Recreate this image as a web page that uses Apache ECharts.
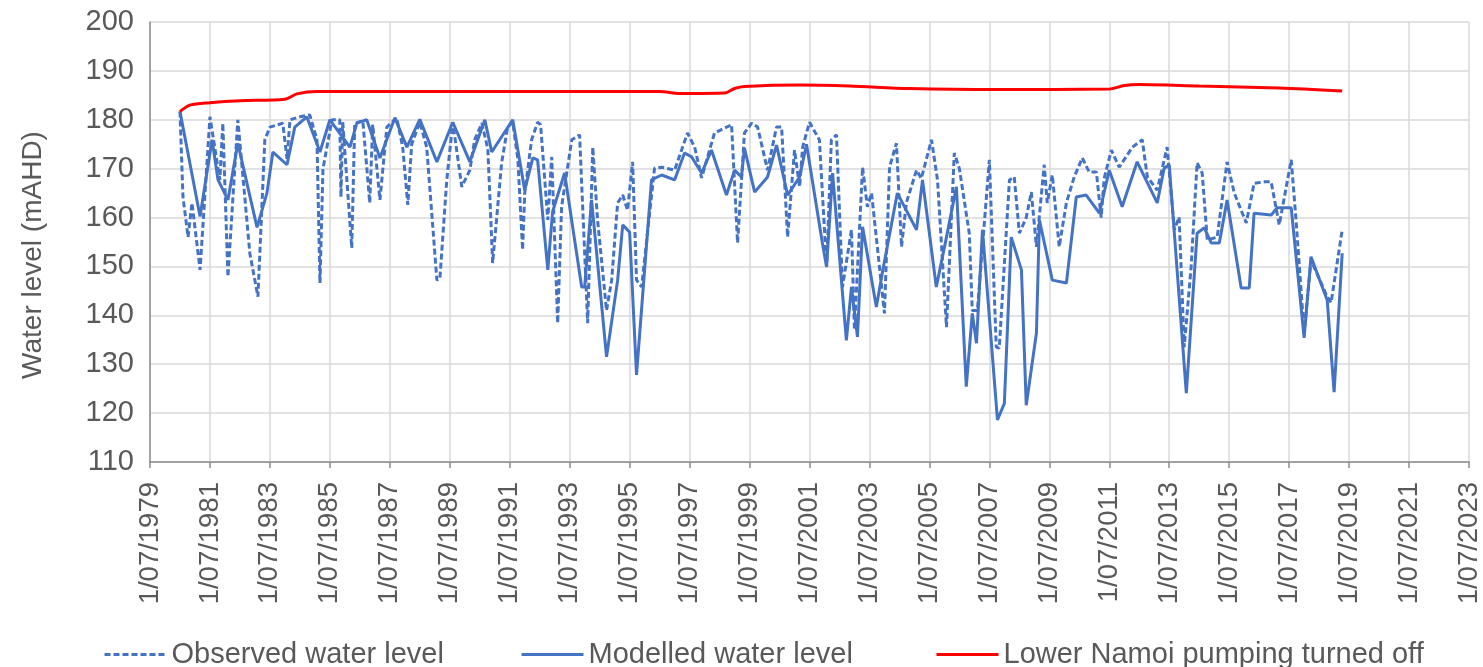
<!DOCTYPE html>
<html>
<head>
<meta charset="utf-8">
<script src="https://cdn.jsdelivr.net/npm/echarts@6/dist/echarts.min.js"></script>
<style>html,body{margin:0;padding:0;background:#fff}#c{width:1483px;height:667px}</style>
</head>
<body>
<div id="c"></div>
<script>
// Dates are calendar decimal years (e.g. 1980.5 = 1 July 1980)
const obsDates = [1980.50,1980.60,1980.77,1980.90,1981.17,1981.50,1981.83,1981.93,1982.10,1982.43,1982.83,1983.10,1983.33,1983.50,1983.93,1984.07,1984.17,1984.50,1984.83,1985.07,1985.17,1985.27,1985.57,1985.83,1985.87,1985.93,1986.23,1986.33,1986.60,1986.83,1986.93,1987.17,1987.40,1987.73,1987.93,1988.10,1988.23,1988.50,1988.73,1989.07,1989.17,1989.40,1989.60,1989.90,1990.17,1990.33,1990.57,1990.77,1990.93,1991.23,1991.43,1991.60,1991.77,1991.93,1992.00,1992.23,1992.43,1992.53,1992.77,1992.90,1993.10,1993.23,1993.57,1993.83,1994.10,1994.27,1994.43,1994.73,1994.90,1995.10,1995.27,1995.43,1995.60,1995.73,1995.90,1996.33,1996.57,1997.00,1997.43,1997.67,1997.90,1998.33,1998.67,1998.90,1999.10,1999.33,1999.57,1999.77,2000.10,2000.40,2000.57,2000.77,2001.00,2001.17,2001.27,2001.50,2001.83,2002.07,2002.23,2002.40,2002.60,2002.90,2003.00,2003.27,2003.43,2003.57,2004.00,2004.17,2004.40,2004.57,2004.73,2005.07,2005.23,2005.57,2005.77,2006.07,2006.23,2006.33,2006.50,2006.83,2006.93,2007.10,2007.50,2007.73,2007.83,2008.17,2008.33,2008.50,2008.73,2008.90,2009.07,2009.33,2009.43,2009.60,2009.83,2010.07,2010.33,2010.60,2010.83,2011.07,2011.23,2011.33,2011.57,2011.83,2012.10,2012.27,2012.60,2012.77,2013.10,2013.43,2013.67,2013.83,2014.00,2014.23,2014.43,2014.60,2014.77,2015.10,2015.43,2015.67,2016.07,2016.33,2016.67,2016.90,2017.17,2017.57,2017.73,2018.00,2018.23,2018.77,2018.90,2019.27];
const obsLevels = [181.7,164.2,156.0,163.0,149.3,180.6,167.7,179.3,147.9,180.0,152.7,143.8,175.9,178.5,179.3,172.0,180.0,180.6,181.0,175.9,146.6,170.0,180.0,180.0,164.2,179.5,153.8,179.3,179.8,163.0,179.0,163.6,178.5,180.4,174.4,162.6,175.0,179.5,174.4,147.2,147.5,167.7,179.5,166.3,169.7,175.9,179.3,174.0,150.7,171.2,178.5,179.5,172.0,153.4,165.0,175.9,179.5,179.0,159.5,172.4,138.4,162.2,175.9,176.9,138.4,174.4,159.5,141.0,147.2,163.0,164.6,161.5,171.4,147.2,145.8,170.1,170.3,169.7,177.3,174.4,168.1,177.3,178.3,179.0,154.8,177.3,179.3,178.5,169.7,178.5,178.5,156.0,173.8,166.3,174.4,179.5,175.9,149.9,175.9,176.9,145.8,157.5,137.0,170.3,162.2,165.0,140.4,170.3,175.2,154.0,163.0,169.7,168.0,175.9,167.7,137.6,159.5,173.2,170.0,156.8,141.0,141.0,171.8,133.5,133.3,167.7,168.3,156.8,160.0,165.2,154.0,170.8,163.0,168.7,154.0,163.0,168.3,172.2,169.3,169.3,160.0,168.0,173.8,170.3,172.8,174.4,175.9,168.3,165.6,174.4,157.5,160.1,133.5,149.9,171.2,169.1,155.4,156.0,171.4,165.0,158.9,167.0,167.3,167.3,158.5,171.8,159.5,136.4,151.3,143.8,142.6,157.5];

const modDates = [1980.50,1981.17,1981.57,1981.77,1982.10,1982.43,1983.07,1983.40,1983.60,1984.07,1984.33,1984.73,1985.17,1985.50,1986.17,1986.40,1986.73,1987.17,1987.67,1988.07,1988.50,1989.07,1989.60,1990.17,1990.67,1990.90,1991.60,1992.00,1992.27,1992.43,1992.77,1992.93,1993.33,1993.90,1994.00,1994.23,1994.73,1995.10,1995.27,1995.50,1995.73,1996.23,1996.57,1997.00,1997.33,1997.57,1997.90,1998.23,1998.73,1999.00,1999.23,1999.33,1999.67,2000.10,2000.40,2000.77,2001.17,2001.40,2001.93,2002.07,2002.27,2002.73,2002.90,2003.10,2003.27,2003.73,2003.93,2004.43,2005.07,2005.27,2005.73,2006.07,2006.40,2006.73,2006.93,2007.07,2007.27,2007.77,2008.00,2008.23,2008.57,2008.73,2009.07,2009.17,2009.60,2010.07,2010.40,2010.73,2011.17,2011.50,2011.93,2012.43,2013.10,2013.33,2013.50,2014.07,2014.43,2014.67,2014.90,2015.17,2015.43,2015.90,2016.17,2016.33,2016.90,2017.10,2017.57,2018.00,2018.23,2018.77,2019.00,2019.27];
const modLevels = [181.7,160.2,175.9,167.7,163.6,175.2,158.0,165.0,173.4,170.8,178.5,180.6,173.4,180.0,174.4,179.3,180.0,172.2,180.4,174.4,180.1,171.4,179.5,171.4,180.0,173.4,180.0,165.6,172.2,171.8,149.3,161.2,169.1,145.8,145.8,163.6,131.5,147.2,158.5,157.0,127.8,167.7,168.7,167.7,173.2,172.4,169.1,173.8,164.6,169.7,168.3,174.2,165.2,168.3,174.8,164.6,168.3,175.0,154.8,149.9,169.1,134.9,145.8,135.6,158.1,141.7,148.7,165.0,157.5,167.7,145.8,156.0,166.3,125.4,140.4,134.3,157.5,118.6,122.0,156.0,149.3,121.6,136.4,159.5,147.2,146.6,164.2,164.6,160.9,169.7,162.2,171.4,163.0,170.1,170.8,124.1,156.8,157.9,154.8,154.8,163.6,145.6,145.6,160.9,160.5,162.0,162.0,135.4,152.0,143.1,124.3,152.7];

const offDates = [1980.50,1980.83,1981.50,1982.50,1984.00,1984.40,1985.07,1996.50,1997.17,1998.67,1999.00,1999.33,2001.17,2002.83,2004.83,2007.83,2011.50,2012.00,2012.50,2014.50,2017.17,2019.27];
const offLevels = [181.7,183.0,183.5,183.9,184.2,185.3,185.8,185.8,185.4,185.5,186.4,186.8,187.1,186.9,186.4,186.2,186.3,187.0,187.2,186.9,186.5,185.9];

const yTicks = [110,120,130,140,150,160,170,180,190,200];
const xTickYears = [1979,1981,1983,1985,1987,1989,1991,1993,1995,1997,1999,2001,2003,2005,2007,2009,2011,2013,2015,2017,2019,2021,2023];

const seriesNames = ['Observed water level','Modelled water level','Lower Namoi pumping turned off'];

// axis value: whole number = 1 July of that year
const toPts = (d, v) => d.map((t, i) => [t - 0.5, v[i]]);

const FONT = '"Liberation Sans", Arial, sans-serif';
const TXT = '#595959';
const legendCommon = {top: 635, itemHeight: 28,
  itemStyle: {color: 'rgba(0,0,0,0)', borderWidth: 0, opacity: 0},
  lineStyle: {width: 3},
  textStyle: {fontSize: 29, color: TXT, fontFamily: FONT}};
const chart = echarts.init(document.getElementById('c'), null, {renderer: 'canvas'});
chart.setOption({
  animation: false,
  backgroundColor: '#ffffff',
  grid: {left: 150, top: 22, right: 13, bottom: 205, containLabel: false},
  xAxis: {
    type: 'value',
    min: xTickYears[0], max: xTickYears[xTickYears.length - 1], interval: 2,
    axisLine: {show: true, lineStyle: {color: '#8c8c8c', width: 1.5}},
    axisTick: {show: true, length: 6, lineStyle: {color: '#8c8c8c', width: 1.5}},
    splitLine: {show: true, lineStyle: {color: '#d9d9d9', width: 1.5}},
    axisLabel: {rotate: 90, margin: 20, fontSize: 27.5, color: TXT, fontFamily: FONT,
      formatter: v => '1/07/' + Math.round(v)}
  },
  yAxis: {
    type: 'value', min: yTicks[0], max: yTicks[yTicks.length - 1], interval: 10,
    name: 'Water level (mAHD)', nameLocation: 'middle', nameGap: 103,
    nameTextStyle: {fontSize: 28, color: TXT, fontFamily: FONT, padding: [0, 26, 0, 0]},
    axisLine: {show: true, lineStyle: {color: '#8c8c8c', width: 1.5}},
    axisTick: {show: false},
    splitLine: {show: true, lineStyle: {color: '#d9d9d9', width: 1.5}},
    axisLabel: {margin: 16, fontSize: 29, color: TXT, fontFamily: FONT}
  },
  legend: [
    Object.assign({data: [seriesNames[0]], left: 98, itemWidth: 62}, legendCommon),
    Object.assign({data: [seriesNames[1]], left: 515, itemWidth: 62}, legendCommon),
    Object.assign({data: [seriesNames[2]], left: 930, itemWidth: 62}, legendCommon)
  ],
  series: [
    {name: seriesNames[0], type: 'line', data: toPts(obsDates, obsLevels), showSymbol: false, symbol: 'none',
      lineStyle: {color: '#4472C4', width: 3, type: [6, 3]}, itemStyle: {color: '#4472C4'}, z: 3},
    {name: seriesNames[1], type: 'line', data: toPts(modDates, modLevels), showSymbol: false, symbol: 'none',
      lineStyle: {color: '#4472C4', width: 3}, itemStyle: {color: '#4472C4'}, z: 4},
    {name: seriesNames[2], type: 'line', data: toPts(offDates, offLevels), showSymbol: false, symbol: 'none', smooth: 0.3,
      lineStyle: {color: '#FF0000', width: 3}, itemStyle: {color: '#FF0000'}, z: 5}
  ]
});
</script>
</body>
</html>
